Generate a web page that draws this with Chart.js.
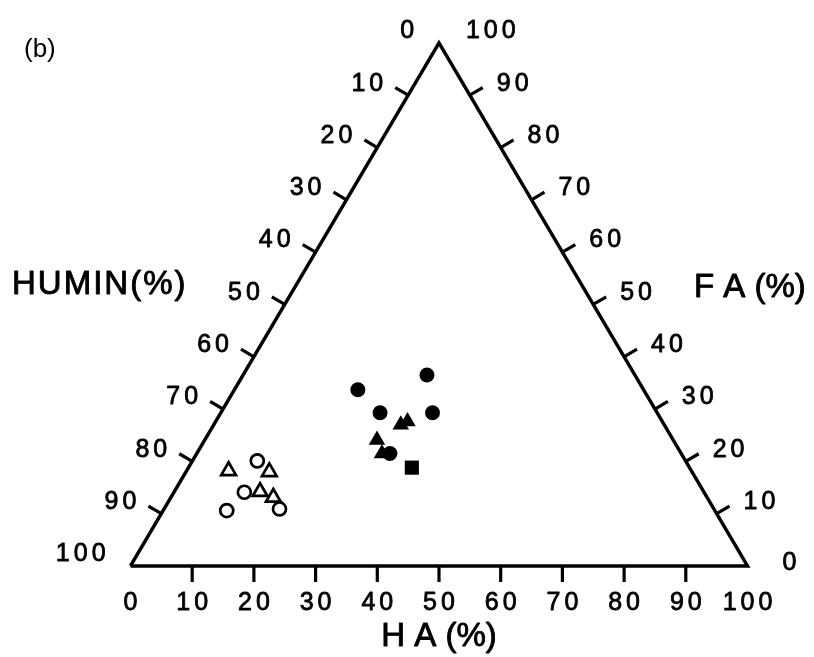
<!DOCTYPE html>
<html>
<head>
<meta charset="utf-8">
<script src="https://cdn.jsdelivr.net/npm/chart.js@4"></script>
<style>
  body { margin: 0; background: #fff; }
  #wrap { width: 814px; height: 657px; position: relative; }
</style>
</head>
<body>
<div id="wrap"><canvas id="ternary"></canvas></div>
<script>
// ternary axes: HA (bottom, 0 -> 100 left to right), FA (right side, 0 at bottom -> 100 at apex),
// HUMIN (left side, 0 at apex -> 100 at bottom-left)
const tickValues = [0, 10, 20, 30, 40, 50, 60, 70, 80, 90, 100];
const haTitle = 'H A (%)';
const faTitle = 'F A (%)';
const huminTitle = 'HUMIN(%)';
const panelLabel = '(b)';

// open symbols
const openCircleHA = [10.5, 11.4, 18.7, 10.3];
const openCircleFA = [20.1, 14.1, 10.9, 10.6];
const openTriangleHA = [6.8, 13.5, 13.9, 16.6];
const openTriangleFA = [18.2, 18.0, 14.2, 13.1];
// filled symbols
const filledCircleHA = [20.0, 29.8, 25.8, 34.3, 31.3];
const filledCircleFA = [33.7, 36.5, 29.3, 29.3, 21.5];
const filledTriangleHA = [30.3, 31.1, 27.9, 30.0];
const filledTriangleFA = [27.0, 27.6, 24.1, 21.5];
const filledSquareHA = [36.2];
const filledSquareFA = [18.8];

const H = Math.sqrt(3) / 2;
const toXY = (ha, fa) => ({ x: ha + fa / 2, y: fa * H });
const pts = (haArr, faArr) => haArr.map((ha, i) => toXY(ha, faArr[i]));

const frame = [toXY(0, 0), toXY(100, 0), toXY(0, 100), toXY(0, 0)];

const FONT = '"Liberation Sans", Arial, sans-serif';

// slightly heavier text, like the printed figure
function text(ctx, s, x, y, w) {
  ctx.lineWidth = w;
  ctx.strokeText(s, x, y);
  ctx.fillText(s, x, y);
}

const ternaryPlugin = {
  id: 'ternaryFrame',
  afterDatasetsDraw(chart) {
    const ctx = chart.ctx;
    const xs = chart.scales.x, ys = chart.scales.y;
    const px = p => ({ x: xs.getPixelForValue(p.x), y: ys.getPixelForValue(p.y) });
    const bl = px(toXY(0, 0)), br = px(toXY(100, 0)), top = px(toXY(0, 100));
    const norm = (a, b, sign) => {
      const dx = b.x - a.x, dy = b.y - a.y, l = Math.hypot(dx, dy);
      return { x: sign * dy / l, y: -sign * dx / l };
    };
    const nLeft = norm(bl, top, 1);   // points left-up
    const nRight = norm(br, top, -1); // points right-up
    const tickLen = 15;

    ctx.save();
    ctx.strokeStyle = '#000';
    ctx.lineCap = 'butt';
    ctx.lineJoin = 'round';
    ctx.fillStyle = '#000';
    ctx.font = '25px ' + FONT;
    if ('letterSpacing' in ctx) ctx.letterSpacing = '4px';

    const tick = (a, b) => {
      ctx.lineWidth = 3.2;
      ctx.beginPath();
      ctx.moveTo(a.x, a.y);
      ctx.lineTo(b.x, b.y);
      ctx.stroke();
    };

    tickValues.forEach(v => {
      const inner = v > 0 && v < 100;
      // bottom (HA)
      const b = px(toXY(v, 0));
      if (inner) tick(b, { x: b.x, y: b.y + tickLen + 1 });
      ctx.textAlign = 'center';
      ctx.textBaseline = 'middle';
      text(ctx, String(v), b.x + 2, b.y + 37, 0.8);

      // left (HUMIN): HUMIN=v on the left edge -> HA=0, FA=100-v
      const l = px(toXY(0, 100 - v));
      const le = { x: l.x + nLeft.x * tickLen, y: l.y + nLeft.y * tickLen };
      if (inner) tick(l, le);
      ctx.textAlign = 'right';
      text(ctx, String(v), le.x - 8, le.y - 4, 0.8);

      // right (FA): FA=v on the right edge -> HUMIN=0, HA=100-v
      const r = px(toXY(100 - v, v));
      const re = { x: r.x + nRight.x * tickLen, y: r.y + nRight.y * tickLen };
      if (inner) tick(r, re);
      ctx.textAlign = 'left';
      text(ctx, String(v), re.x + (v === 0 ? 22 : 14), re.y + (v === 0 ? 5 : -4), 0.8);
    });

    if ('letterSpacing' in ctx) ctx.letterSpacing = '0px';
    ctx.font = '33px ' + FONT;
    ctx.textAlign = 'center';
    text(ctx, haTitle, (bl.x + br.x) / 2, 637, 0.9);
    ctx.textAlign = 'left';
    if ('letterSpacing' in ctx) ctx.letterSpacing = '2px';
    text(ctx, huminTitle, 12, 285, 0.9);
    if ('letterSpacing' in ctx) ctx.letterSpacing = '0px';
    text(ctx, faTitle, 694, 288, 0.9);
    ctx.font = '26px ' + FONT;
    ctx.fillText(panelLabel, 24, 50);
    ctx.restore();
  }
};

new Chart(document.getElementById('ternary'), {
  type: 'scatter',
  data: {
    datasets: [
      {
        label: 'frame', data: frame, showLine: true, borderColor: '#000', borderWidth: 3.5,
        borderJoinStyle: 'miter', pointRadius: 0, fill: false, order: 5
      },
      {
        label: 'open circle', data: pts(openCircleHA, openCircleFA), pointStyle: 'circle',
        pointRadius: 6.5, borderColor: '#000', backgroundColor: '#fff', borderWidth: 2.7
      },
      {
        label: 'open triangle', data: pts(openTriangleHA, openTriangleFA), pointStyle: 'triangle',
        pointRadius: 8.5, borderColor: '#000', backgroundColor: '#fff', borderWidth: 2.7
      },
      {
        label: 'filled circle', data: pts(filledCircleHA, filledCircleFA), pointStyle: 'circle',
        pointRadius: 7.5, borderColor: '#000', backgroundColor: '#000', borderWidth: 0
      },
      {
        label: 'filled triangle', data: pts(filledTriangleHA, filledTriangleFA), pointStyle: 'triangle',
        pointRadius: 9.5, borderColor: '#000', backgroundColor: '#000', borderWidth: 0
      },
      {
        label: 'filled square', data: pts(filledSquareHA, filledSquareFA), pointStyle: 'rect',
        pointRadius: 10, borderColor: '#000', backgroundColor: '#000', borderWidth: 0
      }
    ]
  },
  options: {
    responsive: true,
    maintainAspectRatio: false,
    animation: false,
    layout: { padding: 0, autoPadding: false },
    clip: false,
    plugins: { legend: { display: false }, tooltip: { enabled: false } },
    scales: {
      x: { type: 'linear', display: false, min: -21.15, max: 110.78 },
      y: { type: 'linear', display: false, min: -15.07, max: 93.71 }
    }
  },
  plugins: [ternaryPlugin]
});
</script>
</body>
</html>
